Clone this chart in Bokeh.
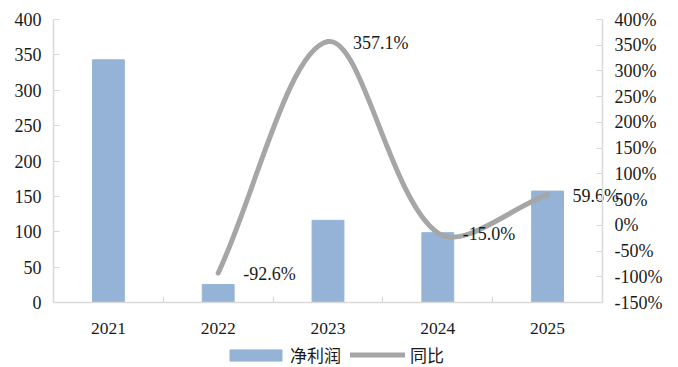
import math
from bokeh.plotting import figure
from bokeh.models import (Range1d, LinearAxis, FixedTicker, PrintfTickFormatter,
                          Legend, LegendItem, ColumnDataSource)
from bokeh.embed import file_html
from bokeh.resources import INLINE

# 净利润 (bars, left axis) and 同比 (year-on-year growth %, right axis)
years = ["2021", "2022", "2023", "2024", "2025"]
net_profit = [343.0, 25.4, 116.1, 98.7, 157.5]
yoy_years = ["2022", "2023", "2024", "2025"]
yoy_pct = [-92.6, 357.1, -15.0, 59.6]
left_ticks = [0, 50, 100, 150, 200, 250, 300, 350, 400]
right_ticks = [-150, -100, -50, 0, 50, 100, 150, 200, 250, 300, 350, 400]

BAR_COLOR = "#95b3d7"
LINE_COLOR = "#a6a6a6"
AXIS_COLOR = "#d9d9d9"
TEXT_COLOR = "#1a1a1a"
SERIF = "Liberation Serif"
CJK = "Noto Sans CJK SC"

# canvas and plotting-area geometry (pixels)
W, H = 678, 367
AREA_L, AREA_R, AREA_T, AREA_B = 53, 602, 19, 302
LEFT_MIN, LEFT_MAX = 0, 400
RIGHT_MIN, RIGHT_MAX = -150, 400

# the frame runs to the top, right and bottom edges of the canvas so that
# value labels and the legend are never clipped; axes are pinned to the area
n_cat = len(years)
px_per_cat = (AREA_R - AREA_L) / n_cat
x_end = (W - AREA_L) / px_per_cat
left_scale = (AREA_B - AREA_T) / (LEFT_MAX - LEFT_MIN)
right_scale = (AREA_B - AREA_T) / (RIGHT_MAX - RIGHT_MIN)
left_range = (LEFT_MIN - (H - AREA_B) / left_scale, LEFT_MAX + AREA_T / left_scale)
right_range = (RIGHT_MIN - (H - AREA_B) / right_scale, RIGHT_MAX + AREA_T / right_scale)

pos = {y: i + 0.5 for i, y in enumerate(years)}
bar_x = [pos[y] for y in years]
yoy_x = [pos[y] for y in yoy_years]

p = figure(width=W, height=H, output_backend="svg", toolbar_location=None,
           x_range=Range1d(0, x_end), y_range=Range1d(*left_range),
           min_border_left=AREA_L, min_border_right=0, min_border_top=0,
           min_border_bottom=0, x_axis_location=None, y_axis_location=None)
p.outline_line_color = None
p.grid.visible = False
p.background_fill_color = "white"
p.border_fill_color = "white"
p.extra_y_ranges = {"yoy": Range1d(*right_range)}

def style_axis(ax, size):
    ax.axis_line_color = AXIS_COLOR
    ax.axis_line_width = 1.5
    ax.major_tick_line_color = AXIS_COLOR
    ax.major_tick_line_width = 1.2
    ax.minor_tick_line_color = None
    ax.major_label_text_font = SERIF
    ax.major_label_text_font_size = size
    ax.major_label_text_color = TEXT_COLOR

# left axis
yl = LinearAxis(ticker=FixedTicker(ticks=left_ticks), bounds=(LEFT_MIN, LEFT_MAX))
style_axis(yl, "18px")
yl.major_tick_in = 6
yl.major_tick_out = 0
yl.major_label_standoff = 12
p.add_layout(yl, "left")

# right axis, pinned at the right edge of the category area
yr = LinearAxis(y_range_name="yoy", ticker=FixedTicker(ticks=right_ticks),
                formatter=PrintfTickFormatter(format="%d%%"),
                bounds=(RIGHT_MIN, RIGHT_MAX), fixed_location=n_cat)
style_axis(yr, "18px")
yr.major_tick_in = 6
yr.major_tick_out = 0
yr.major_label_standoff = 12
p.add_layout(yr, "right")

# bottom axis at zero: labels at category centres, ticks at boundaries
xa = LinearAxis(ticker=FixedTicker(ticks=bar_x, minor_ticks=list(range(1, n_cat))),
                bounds=(0, n_cat), fixed_location=0)
style_axis(xa, "17.5px")
xa.major_label_overrides = {pos[y]: y for y in years}
xa.major_tick_line_color = None
xa.minor_tick_line_color = AXIS_COLOR
xa.minor_tick_line_width = 1.2
xa.minor_tick_in = 6
xa.minor_tick_out = 0
xa.major_label_standoff = 14
p.add_layout(xa, "below")

bars = p.vbar(x=bar_x, top=net_profit, bottom=0, width=0.29, color=BAR_COLOR)

# smoothed growth curve: cubic beziers whose tangents are weighted by the
# on-screen chord lengths of neighbouring segments
n = len(yoy_x)
def chord(i, j):
    return math.hypot((yoy_x[j] - yoy_x[i]) * px_per_cat,
                      (yoy_pct[j] - yoy_pct[i]) * right_scale)
lens = [chord(i, i + 1) for i in range(n - 1)]
cp_out, cp_in = [], []
for i in range(n):
    a = max(i - 1, 0)
    b = min(i + 1, n - 1)
    tx, ty = yoy_x[b] - yoy_x[a], yoy_pct[b] - yoy_pct[a]
    l_prev = lens[i - 1] if i > 0 else 0.0
    l_next = lens[i] if i < n - 1 else 0.0
    tot = 3 * (l_prev + l_next)
    cp_out.append((yoy_x[i] + tx * l_next / tot, yoy_pct[i] + ty * l_next / tot))
    cp_in.append((yoy_x[i] - tx * l_prev / tot, yoy_pct[i] - ty * l_prev / tot))
seg = dict(x0=yoy_x[:-1], y0=yoy_pct[:-1], x1=yoy_x[1:], y1=yoy_pct[1:],
           cx0=[c[0] for c in cp_out[:-1]], cy0=[c[1] for c in cp_out[:-1]],
           cx1=[c[0] for c in cp_in[1:]], cy1=[c[1] for c in cp_in[1:]])
curve = p.bezier(source=ColumnDataSource(seg), x0="x0", y0="y0", x1="x1", y1="y1",
                 cx0="cx0", cy0="cy0", cx1="cx1", cy1="cy1",
                 line_color=LINE_COLOR, line_width=5, line_cap="round",
                 y_range_name="yoy")

labels = ColumnDataSource(dict(x=yoy_x, y=yoy_pct,
                               t=[f"{v:.1f}%" for v in yoy_pct]))
p.text(x="x", y="y", text="t", source=labels, y_range_name="yoy",
       x_offset=25, y_offset=1, text_align="left", text_baseline="middle",
       text_font={"value": SERIF}, text_font_size="18px",
       text_color=TEXT_COLOR)

legend_style = dict(orientation="horizontal", padding=0, margin=0,
                    border_line_color=None, label_height=11,
                    label_text_font=CJK, label_text_font_size="17px",
                    label_text_color=TEXT_COLOR, background_fill_alpha=0)
leg_bar = Legend(items=[LegendItem(label="净利润", renderers=[bars])],
                 location=(170, 0), glyph_width=65, glyph_height=14,
                 label_standoff=2, **legend_style)
leg_line = Legend(items=[LegendItem(label="同比", renderers=[curve])],
                  location=(297, 0), glyph_width=55, glyph_height=11,
                  label_standoff=5, **legend_style)
p.add_layout(leg_bar, "center")
p.add_layout(leg_line, "center")

open("out.html", "w").write(file_html(p, INLINE))
